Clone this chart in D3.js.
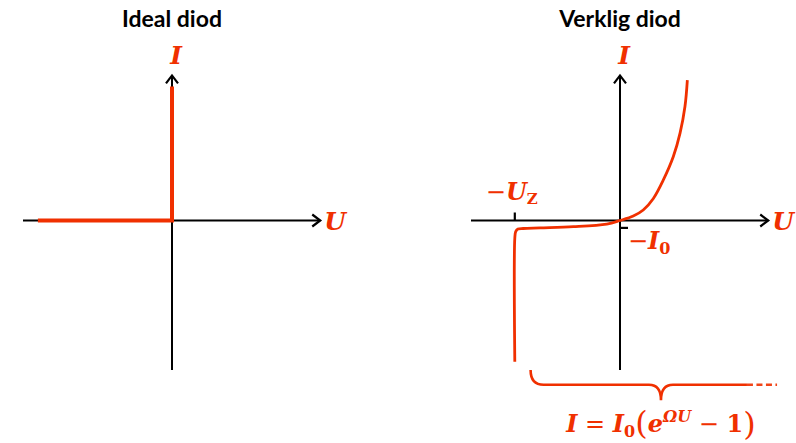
<!DOCTYPE html>
<html><head><meta charset="utf-8">
<script src="https://cdn.jsdelivr.net/npm/d3@7/dist/d3.min.js"></script>
<style>
html,body{margin:0;padding:0;background:#fff;}
svg{display:block;}
.title{font-family:Lato,"Open Sans",sans-serif;font-weight:700;font-size:23px;fill:#000;}
.m{font-family:"DejaVu Serif",serif;font-weight:700;font-style:italic;fill:#F03000;}
</style></head>
<body>
<script>
// ---- data ----
const titles = ["Ideal diod", "Verklig diod"];
const axisU = [-1.0, 0.995];          // x-axis extent (data units)
const axisI = [-1.01, 0.98];          // y-axis extent
const idealU = [-0.9, 0, 0];
const idealI = [0, 0, 0.905];
const realU = [0.452, 0.436, 0.403, 0.358, 0.291, 0.224, 0.156, 0.089, 0, -0.089, -0.313, -0.537, -0.65, -0.685, -0.700, -0.706, -0.706];
const realI = [0.949, 0.770, 0.590, 0.432, 0.274, 0.149, 0.071, 0.030, 0, -0.024, -0.042, -0.050, -0.054, -0.058, -0.075, -0.12, -0.954];
const zenerU = -0.706;
const leakI = -0.05;
const braceU = [-0.60, 0.275, 0.852, 1.054];
const braceI = [-1.01, -1.11, -1.215];

const W = 796, H = 443, red = "#F03000";
const svg = d3.select("body").append("svg").attr("width", W).attr("height", H);

const origins = [172, 620];
function scales(ox) {
  return {
    x: d3.scaleLinear().domain([-1, 1]).range([ox - 149, ox + 149]),
    y: d3.scaleLinear().domain([-1, 1]).range([220.5 + 148, 220.5 - 148])
  };
}

origins.forEach((ox, p) => {
  const {x, y} = scales(ox);
  const g = svg.append("g");
  g.append("text").attr("class", "title").attr("x", x(0)).attr("y", 27)
    .attr("text-anchor", "middle").text(titles[p]);
  g.append("line").attr("x1", x(axisU[0])).attr("x2", x(axisU[1]))
    .attr("y1", y(0)).attr("y2", y(0)).attr("stroke", "#000").attr("stroke-width", 2);
  g.append("line").attr("x1", x(0)).attr("x2", x(0))
    .attr("y1", y(axisI[0])).attr("y2", y(axisI[1])).attr("stroke", "#000").attr("stroke-width", 2);
  const tx = x(axisU[1]), ty = y(0);
  g.append("path").attr("d", `M${tx-8},${ty-6}L${tx},${ty}L${tx-8},${ty+6}`)
    .attr("fill", "none").attr("stroke", "#000").attr("stroke-width", 2.2);
  const ax = x(0), ay = y(axisI[1]);
  g.append("path").attr("d", `M${ax-6},${ay+8}L${ax},${ay}L${ax+6},${ay+8}`)
    .attr("fill", "none").attr("stroke", "#000").attr("stroke-width", 2.2);
  g.append("text").attr("class", "m").attr("font-size", 25).attr("x", x(0) + 4).attr("y", y(axisI[1]) - 11)
    .attr("text-anchor", "middle").text("I");
  g.append("text").attr("class", "m").attr("font-size", 25).attr("x", x(axisU[1]) + 4).attr("y", y(0) + 9)
    .text("U");
});

// ideal diode
{
  const {x, y} = scales(origins[0]);
  const line = d3.line().x((d, i) => x(idealU[i])).y((d, i) => y(idealI[i]));
  svg.append("path").attr("d", line(idealU)).attr("fill", "none").attr("stroke", red)
    .attr("stroke-width", 4);
}

// real diode
{
  const {x, y} = scales(origins[1]);
  const line = d3.line().x((d, i) => x(realU[i])).y((d, i) => y(realI[i])).curve(d3.curveCatmullRom.alpha(0.5));
  svg.append("path").attr("d", line(realU)).attr("fill", "none").attr("stroke", red)
    .attr("stroke-width", 2.8).attr("stroke-linejoin", "round");
  svg.append("line").attr("x1", x(zenerU)).attr("x2", x(zenerU)).attr("y1", y(0)).attr("y2", y(0) - 8)
    .attr("stroke", "#000").attr("stroke-width", 2.2);
  svg.append("line").attr("x1", x(0)).attr("x2", x(0) + 8).attr("y1", y(leakI)).attr("y2", y(leakI))
    .attr("stroke", "#000").attr("stroke-width", 2.2);
  const uz = svg.append("text").attr("class", "m").attr("font-size", 24).attr("x", x(zenerU) - 29).attr("y", y(0) - 21);
  uz.append("tspan").attr("font-style", "normal").attr("font-weight", 400).text("−");
  uz.append("tspan").text("U");
  uz.append("tspan").attr("font-style", "normal").attr("font-size", 15).attr("dy", 4).text("Z");
  const i0 = svg.append("text").attr("class", "m").attr("font-size", 24).attr("x", x(0) + 8).attr("y", y(0) + 28);
  i0.append("tspan").attr("font-style", "normal").attr("font-weight", 400).text("−");
  i0.append("tspan").text("I");
  i0.append("tspan").attr("font-style", "normal").attr("font-size", 16).attr("dy", 5).text("0");
  const bx0 = x(braceU[0]), bm = x(braceU[1]), bx1 = x(braceU[2]), bx2 = x(braceU[3]);
  const by0 = y(braceI[0]), by1 = y(braceI[1]), by2 = y(braceI[2]);
  const r = 13;
  const d = `M${bx0},${by0} Q${bx0},${by1} ${bx0 + r},${by1} L${bm - 12},${by1} Q${bm},${by1} ${bm},${by2} M${bm},${by2} Q${bm},${by1} ${bm + 12},${by1} L${bx1},${by1}`;
  svg.append("path").attr("d", d).attr("fill", "none").attr("stroke", red).attr("stroke-width", 2.6);
  svg.append("line").attr("x1", bx1).attr("x2", bx2).attr("y1", by1).attr("y2", by1)
    .attr("stroke", red).attr("stroke-width", 2.6).attr("stroke-dasharray", "6,3.5").attr("opacity", 0.9);
  const f = svg.append("text").attr("class", "m").attr("font-size", 24).attr("x", bm).attr("y", 432).attr("text-anchor", "middle");
  f.append("tspan").text("I");
  f.append("tspan").attr("font-style", "normal").attr("font-weight", 400).text(" = ");
  f.append("tspan").text("I");
  f.append("tspan").attr("font-style", "normal").attr("font-size", 16).attr("dy", 5).text("0");
  f.append("tspan").attr("font-style", "normal").attr("font-weight", 400).attr("font-size", 32).attr("dy", -3).text("(");
  f.append("tspan").attr("font-size", 24).attr("dy", -2).text("e");
  f.append("tspan").attr("font-size", 16).attr("dy", -10).text("ΩU");
  f.append("tspan").attr("font-style", "normal").attr("font-weight", 400).attr("font-size", 24).attr("dy", 10).text(" − ");
  f.append("tspan").attr("font-style", "normal").attr("font-size", 24).text("1");
  f.append("tspan").attr("font-style", "normal").attr("font-weight", 400).attr("font-size", 32).attr("dy", 3).text(")");
}
</script>
</body></html>
